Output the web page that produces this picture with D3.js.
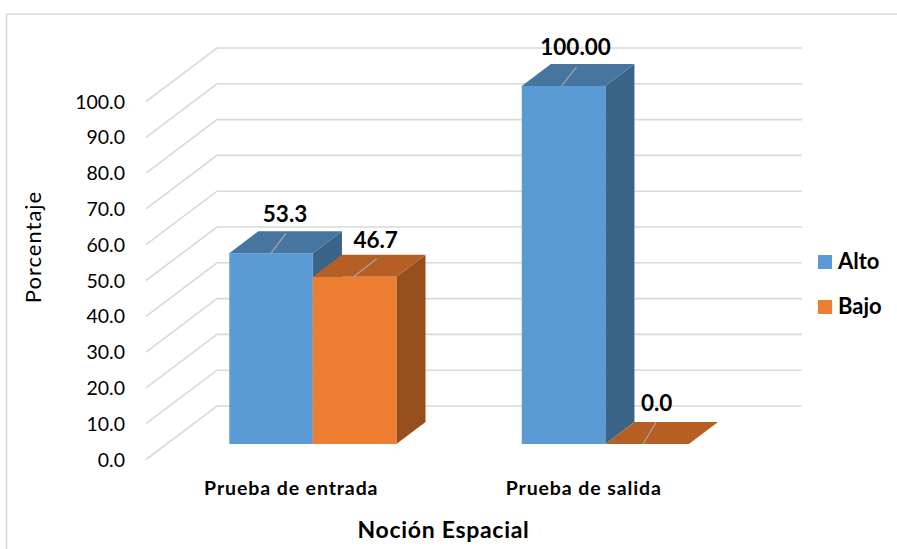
<!DOCTYPE html>
<html>
<head>
<meta charset="utf-8">
<script src="https://cdn.jsdelivr.net/npm/d3@7"></script>
<style>
  html, body { margin: 0; padding: 0; background: #fff; }
  svg { display: block; }
  text { font-family: Lato, "Open Sans", sans-serif; fill: #000; }
</style>
</head>
<body>
<div id="chart"></div>
<script>
const categories = ["Prueba de entrada", "Prueba de salida"];
const seriesNames = ["Alto", "Bajo"];
const alto = [53.3, 100];
const bajo = [46.7, 0];
const altoLabels = ["53.3", "100.00"];
const bajoLabels = ["46.7", "0.0"];
const yTicks = [0, 10, 20, 30, 40, 50, 60, 70, 80, 90, 100];

const width = 897, height = 549;

const svg = d3.select("#chart").append("svg")
  .attr("width", width)
  .attr("height", height);

// Outer chart frame, only the top and left edges fall inside the page
svg.append("path")
  .attr("d", "M6.5,549V14H897")
  .attr("fill", "none")
  .attr("stroke", "#d9d9d9")
  .attr("stroke-width", 1.6);

// Plot plane in screen coordinates, plus the oblique floor offset
const y = d3.scaleLinear().domain([0, 100]).range([459.5, 101.5]);
const x0 = d3.scaleBand().domain(categories).range([146, 731]);
const x1 = d3.scaleBand().domain(seriesNames).range([0, x0.bandwidth()]).paddingOuter(0.75);
const depthX = 71, depthY = 53.5;
const barFront = 0.29, barBack = 0.7;

// Shift a point towards the back wall by fraction t of the floor depth
const px = (xv, t) => xv + depthX * t;
const py = (v, t) => y(v) - depthY * t;

// Gridlines run along the side wall then across the back wall
svg.append("g").selectAll("path")
  .data(yTicks)
  .join("path")
  .attr("d", d => `M${px(146, 0)},${py(d, 0)}L${px(146, 1)},${py(d, 1)}L${px(731, 1)},${py(d, 1)}`)
  .attr("fill", "none")
  .attr("stroke", "#d9d9d9")
  .attr("stroke-width", 1.6);

// Value axis labels
svg.append("g").selectAll("text")
  .data(yTicks)
  .join("text")
  .attr("x", 125)
  .attr("y", d => y(d))
  .attr("dy", "0.36em")
  .attr("text-anchor", "end")
  .attr("font-size", 19.5)
  .text(d => d3.format(".1f")(d));

const colors = {
  Alto: { front: "#5b9bd5", top: "#4675a0", side: "#3a6488" },
  Bajo: { front: "#ed7d31", top: "#b55f24", side: "#964f1c" }
};

const bars = [];
categories.forEach((c, i) => {
  bars.push({ cat: c, name: "Alto", value: alto[i], label: altoLabels[i] });
  bars.push({ cat: c, name: "Bajo", value: bajo[i], label: bajoLabels[i] });
});

const barG = svg.append("g").selectAll("g")
  .data(bars)
  .join("g");

// Right-hand face
barG.append("path")
  .attr("fill", d => colors[d.name].side)
  .attr("d", d => {
    const r = x0(d.cat) + x1(d.name) + x1.bandwidth();
    return `M${px(r, barFront)},${py(0, barFront)}L${px(r, barBack)},${py(0, barBack)}` +
      `L${px(r, barBack)},${py(d.value, barBack)}L${px(r, barFront)},${py(d.value, barFront)}Z`;
  });

// Top face
barG.append("path")
  .attr("fill", d => colors[d.name].top)
  .attr("d", d => {
    const l = x0(d.cat) + x1(d.name), r = l + x1.bandwidth();
    return `M${px(l, barFront)},${py(d.value, barFront)}L${px(l, barBack)},${py(d.value, barBack)}` +
      `L${px(r, barBack)},${py(d.value, barBack)}L${px(r, barFront)},${py(d.value, barFront)}Z`;
  });

// Front face
barG.append("rect")
  .attr("fill", d => colors[d.name].front)
  .attr("x", d => px(x0(d.cat) + x1(d.name), barFront))
  .attr("y", d => py(d.value, barFront))
  .attr("width", x1.bandwidth())
  .attr("height", d => py(0, barFront) - py(d.value, barFront));

// Leader lines from bar tops to data labels, order: entrada Alto/Bajo, salida Alto/Bajo
const leaderStart = [0, -1, -2, -4];
const leaderDx = [15, 23, 15, 13];
const leaderDy = [20, 18, 19, 22];
const labelDx = [14, 21, 12, 9.5];
const labelDy = [-31, -29, -30.5, -33];
const barMid = d => px(x0(d.cat) + x1(d.name) + x1.bandwidth() / 2, barFront);

barG.append("line")
  .attr("stroke", "#a6a6a6")
  .attr("stroke-width", 1.2)
  .attr("x1", (d, i) => barMid(d) + leaderStart[i])
  .attr("y1", d => py(d.value, barFront))
  .attr("x2", (d, i) => barMid(d) + leaderStart[i] + leaderDx[i])
  .attr("y2", (d, i) => py(d.value, barFront) - leaderDy[i]);

barG.append("text")
  .attr("x", (d, i) => barMid(d) + labelDx[i])
  .attr("y", (d, i) => py(d.value, barFront) + labelDy[i])
  .attr("text-anchor", "middle")
  .attr("font-size", 22.5)
  .attr("font-weight", 700)
  .text(d => d.label);

// Category labels
svg.append("g").selectAll("text")
  .data(categories)
  .join("text")
  .attr("x", d => x0(d) + x0.bandwidth() / 2 - 1)
  .attr("y", 495)
  .attr("text-anchor", "middle")
  .attr("font-size", 19.5)
  .attr("font-weight", 700)
  .attr("letter-spacing", 0.9)
  .text(d => d);

// Axis titles
svg.append("text")
  .attr("x", 443.5)
  .attr("y", 538)
  .attr("text-anchor", "middle")
  .attr("font-size", 23)
  .attr("font-weight", 700)
  .attr("letter-spacing", 0.7)
  .text("Noción Espacial");

svg.append("text")
  .attr("transform", "translate(41,247) rotate(-90)")
  .attr("text-anchor", "middle")
  .attr("font-size", 22)
  .attr("letter-spacing", 1)
  .text("Porcentaje");

// Legend
const legend = svg.append("g").selectAll("g")
  .data(seriesNames)
  .join("g")
  .attr("transform", (d, i) => `translate(818,${255 + i * 45})`);

legend.append("rect")
  .attr("width", 14)
  .attr("height", 14)
  .attr("fill", d => colors[d].front);

legend.append("text")
  .attr("x", 20)
  .attr("y", 14)
  .attr("font-size", 22)
  .attr("font-weight", 700)
  .text(d => d);
</script>
</body>
</html>
